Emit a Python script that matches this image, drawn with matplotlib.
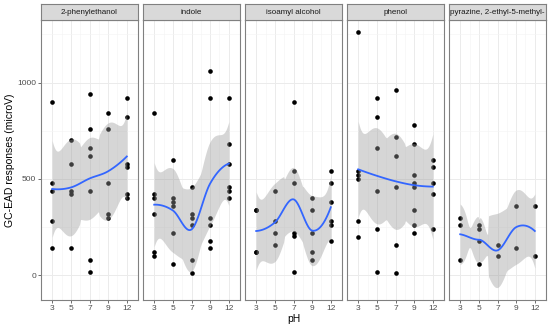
import numpy as np
import matplotlib
matplotlib.use('Agg')
import matplotlib.pyplot as plt

# ---------------- data ----------------
compounds = ['2-phenylethanol', 'indole', 'isoamyl alcohol', 'phenol',
             'pyrazine, 2-ethyl-5-methyl-']
ph_labels = ['3', '5', '7', '9', '12']

# responses (microV) per pH level, in order of ph_labels
phenylethanol = [[901, 481, 439, 280, 140],
                 [701, 580, 439, 420, 140],
                 [939, 760, 661, 619, 439, 80, 19],
                 [841, 760, 481, 320, 299],
                 [920, 820, 580, 561, 420, 400]]
indole = [[841, 420, 400, 320, 119, 100],
          [600, 400, 381, 360, 220, 59],
          [460, 320, 299, 260, 80, 10],
          [1060, 920, 299, 260, 180, 140],
          [920, 680, 580, 460, 439, 400]]
isoamyl = [[341, 341, 119, 119],
           [439, 280, 220, 159],
           [901, 540, 481, 220, 205, 19],
           [400, 341, 220, 119, 80],
           [540, 481, 381, 280, 260, 180]]
phenol = [[1261, 540, 521, 500, 280, 199],
          [920, 820, 661, 439, 240, 19],
          [960, 720, 619, 460, 159, 10],
          [780, 680, 521, 481, 460, 341, 260, 220],
          [600, 561, 481, 420, 240]]
pyrazine = [[299, 260, 80],
            [260, 240, 180, 59],
            [159, 100],
            [360, 140],
            [360, 100]]
series = [phenylethanol, indole, isoamyl, phenol, pyrazine]


# ---------------- loess (R-like) ----------------
def kd_vertices(x, fc):
    xs = np.sort(x)
    n = len(xs)
    xs1 = np.concatenate([[np.nan], xs])
    lo, hi = xs[0], xs[-1]
    mu = 0.005 * max(hi - lo, 1e-10 * max(abs(lo), abs(hi)) + 1e-30)
    verts = {lo - mu, hi + mu}

    def rec(l, u, vlo, vhi):
        if u - l + 1 <= fc:
            return
        m = (l + u) // 2
        offset = 0
        while True:
            if m + offset >= u or m + offset < l:
                break
            if xs1[m + offset] == xs1[m + offset + 1]:
                offset = -offset
                if offset >= 0:
                    offset += 1
            else:
                m = m + offset
                break
        t = xs1[m]
        if t == vlo or t == vhi:
            return
        verts.add(t)
        rec(l, m, vlo, t)
        rec(m + 1, u, t, vhi)

    rec(1, n, lo - mu, hi + mu)
    return np.array(sorted(verts))


def local_rows(x, q, span=0.75):
    n = len(x)
    k = int(np.floor(n * span))
    d = np.abs(x - q)
    rho = np.sort(d)[k - 1]
    w = np.where(d < rho, (1 - (d / rho) ** 3) ** 3, 0.0)
    sw = np.sqrt(w)
    dx = x - q
    X = np.column_stack([np.ones(n), dx, dx ** 2]) * sw[:, None]
    cn = np.linalg.norm(X, axis=0)
    cn[cn == 0] = 1.0
    P = np.linalg.pinv(X / cn, rcond=100 * np.finfo(float).eps)
    B = (P / cn[:, None]) * sw[None, :]
    return B[0], B[1]


def interp_rows(xe, verts, V0, V1):
    rows = []
    for xv in xe:
        i = np.searchsorted(verts, xv, side='right') - 1
        i = min(max(i, 0), len(verts) - 2)
        a, b = verts[i], verts[i + 1]
        h = (xv - a) / (b - a)
        phi0 = (1 - h) ** 2 * (1 + 2 * h)
        phi1 = h ** 2 * (3 - 2 * h)
        psi0 = h * (1 - h) ** 2
        psi1 = -h ** 2 * (1 - h)
        rows.append(phi0 * V0[i] + phi1 * V0[i + 1]
                    + (psi0 * V1[i] + psi1 * V1[i + 1]) * (b - a))
    return np.array(rows)


def tq975(df):
    z = 1.959963984540054
    g1 = (z ** 3 + z) / 4
    g2 = (5 * z ** 5 + 16 * z ** 3 + 3 * z) / 96
    g3 = (3 * z ** 7 + 19 * z ** 5 + 17 * z ** 3 - 15 * z) / 384
    g4 = (79 * z ** 9 + 776 * z ** 7 + 1482 * z ** 5 - 1920 * z ** 3 - 945 * z) / 92160
    return z + g1 / df + g2 / df ** 2 + g3 / df ** 3 + g4 / df ** 4


def loess_smooth(x, y, span=0.75, npts=80):
    x = np.asarray(x, float)
    y = np.asarray(y, float)
    n = len(x)
    fc = int(np.floor(n * span * 0.2))
    verts = kd_vertices(x, fc)
    V0, V1 = [], []
    for v in verts:
        r0, r1 = local_rows(x, v, span)
        V0.append(r0)
        V1.append(r1)
    V0 = np.array(V0)
    V1 = np.array(V1)
    L = interp_rows(x, verts, V0, V1)
    res = y - L @ y
    IL = np.eye(n) - L
    M = IL.T @ IL
    one = np.trace(M)
    two = np.trace(M @ M)
    s = np.sqrt(np.sum(res ** 2) / one)
    df = one ** 2 / two
    grid = np.linspace(x.min(), x.max(), npts)
    fit = interp_rows(grid, verts, V0, V1) @ y
    Ld = np.array([local_rows(x, g, span)[0] for g in grid])
    se = s * np.sqrt(np.sum(Ld ** 2, axis=1))
    ci = tq975(df) * se
    return grid, fit, fit - ci, fit + ci


# ---------------- figure ----------------
plt.rcParams['font.family'] = ['Liberation Sans', 'DejaVu Sans']
W, H = 550, 328
fig = plt.figure(figsize=(W / 100, H / 100), dpi=100)

panel_left = [41, 143, 245, 347, 449]
panel_w = 97
panel_top, panel_bot = 20, 300
strip_top = 4

grid_major = '#EBEBEB'
text_col = '#4D4D4D'
frame_col = '#808080'

for j, (name, data) in enumerate(zip(compounds, series)):
    xl = panel_left[j]
    ax = fig.add_axes([xl / W, (H - panel_bot) / H, panel_w / W,
                       (panel_bot - panel_top) / H])
    xs = np.concatenate([[i + 1] * len(v) for i, v in enumerate(data)])
    ys = np.concatenate([np.asarray(v, float) for v in data])

    ax.set_xlim(0.4, 5.6)
    ax.set_ylim(-128, 1325)
    ax.set_xticks(np.arange(1, 6))
    ax.set_xticks(np.arange(1.5, 5.0, 1.0), minor=True)
    ax.set_yticks([0, 500, 1000])
    ax.set_yticks([250, 750, 1250], minor=True)
    ax.grid(True, which='major', color=grid_major, lw=0.7, zorder=0)
    ax.grid(True, which='minor', color='#F4F4F4', lw=0.4, zorder=0)
    ax.set_axisbelow(True)

    ax.scatter(xs, ys, s=11, color='black', zorder=2, linewidths=0)
    gx, fit, lo, hi = loess_smooth(xs, ys)
    ax.fill_between(gx, lo, hi, color='#999999', alpha=0.4, lw=0, zorder=3)
    ax.plot(gx, fit, color='#3366FF', lw=1.3, zorder=4)

    for sp in ax.spines.values():
        sp.set_color(frame_col)
        sp.set_linewidth(0.8)
        sp.set_zorder(5)

    ax.set_xticklabels(ph_labels)
    ax.tick_params(axis='both', which='major', length=2, width=0.6,
                   colors='#555555', labelsize=6, labelcolor=text_col, pad=1.5)
    ax.tick_params(axis='both', which='minor', length=0)
    if j == 0:
        ax.set_yticklabels(['0', '500', '1000'])
    else:
        ax.tick_params(axis='y', which='major', length=0, labelleft=False)

    # strip
    sax = fig.add_axes([xl / W, (H - panel_top) / H, panel_w / W,
                        (panel_top - strip_top) / H])
    sax.set_facecolor('#D9D9D9')
    sax.set_xticks([])
    sax.set_yticks([])
    for sp in sax.spines.values():
        sp.set_color(frame_col)
        sp.set_linewidth(0.8)
    t = sax.text(0.5, 0.5, name, ha='center', va='center', fontsize=5.8,
                 color='#1A1A1A', transform=sax.transAxes)
    t.set_clip_on(True)

fig.text(293.5 / W, 1 - 319 / H, 'pH', ha='center', va='center',
         fontsize=7.5, color='black')
fig.text(10 / W, 1 - 160 / H, 'GC-EAD responses (microV)', ha='center',
         va='center', rotation=90, fontsize=7.5, color='black')

fig.savefig('out.png', dpi=100)
